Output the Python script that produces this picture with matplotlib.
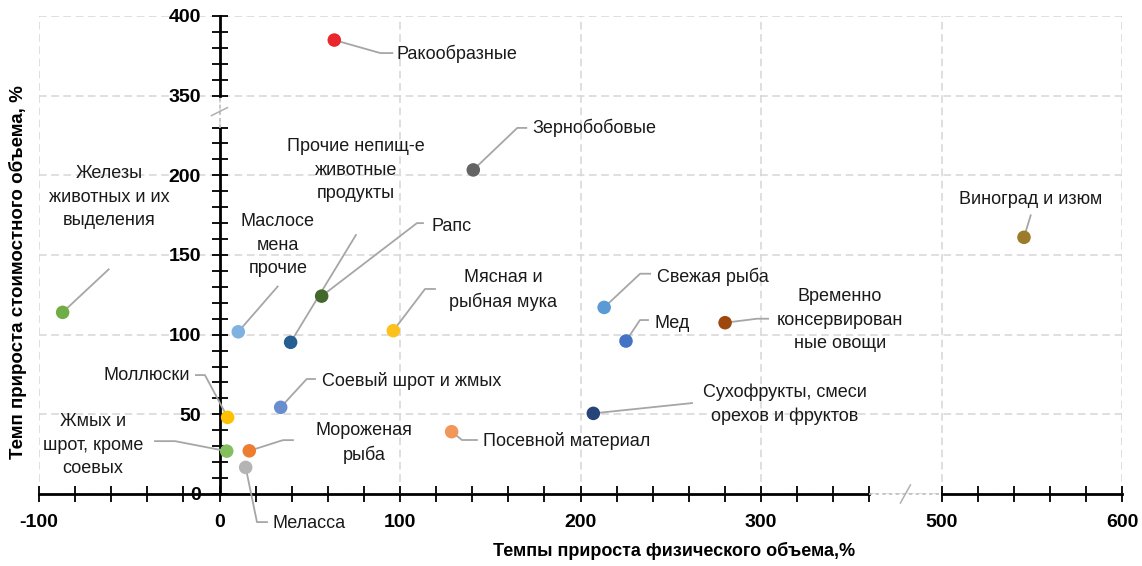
import numpy as np
import matplotlib
matplotlib.use("Agg")
import matplotlib.pyplot as plt
from matplotlib import transforms
from matplotlib.ticker import FixedLocator

plt.rcParams["axes.unicode_minus"] = False

# data: growth of physical volume (x) and value (y), %
names = ["Ракообразные", "Зернобобовые", "Виноград и изюм",
         "Железы\nживотных и их\nвыделения", "Маслосе\nмена\nпрочие", "Рапс",
         "Прочие непищ-е\nживотные\nпродукты", "Мясная и\nрыбная мука", "Свежая рыба",
         "Мед", "Временно\nконсервирован\nные овощи", "Сухофрукты, смеси\nорехов и фруктов",
         "Посевной материал", "Соевый шрот и жмых", "Моллюски",
         "Жмых и\nшрот, кроме\nсоевых", "Мороженая\nрыба", "Меласса"]
x_vals = [63.6, 140.6, 545.7, -86.9, 10.4, 56.6, 39.4, 96.3, 213.1,
          225.2, 280.1, 207.1, 128.6, 33.9, 4.5, 4.0, 16.5, 14.5]
y_vals = [384.9, 203.4, 161.1, 114.0, 101.8, 124.2, 95.2, 102.5, 117.1,
          96.0, 107.5, 50.6, 39.1, 54.4, 48.1, 26.9, 27.1, 16.7]
colors = ["#e8262b", "#646464", "#9c7b2b", "#70ad47", "#7fb2e0", "#43682b",
          "#255e91", "#fcc21b", "#5b9bd5", "#4472c4", "#9e480e", "#264478",
          "#f1975a", "#698ed0", "#ffc000", "#84bf5e", "#ed7d31", "#b4b4b4"]

x_ticks = [-100, 0, 100, 200, 300, 500, 600]
y_ticks = [0, 50, 100, 150, 200, 350, 400]

# axis breaks (data range squeezed into a short stretch)
xb0, xb1, xw = 360, 500, 40
yb0, yb1, yw = 230, 350, 20

# label layout: offset of text from point (pixels), alignment, leader vertices
text_off = [(62.7, -14), (58.7, 42), (6.7, 38), (46.3, 115.3), (39.7, 86.3), (110.3, 70),
            (65.3, 172.3), (109.7, 40.7), (53, 30.7), (29, 18), (115, 2.7), (191.7, 9.3),
            (31.3, -9.3), (41, 26.3), (-37.7, 42.3), (-133.7, 6), (114.7, 7.7), (27.3, -55.7)]
text_ha = ["left", "left", "center", "center", "center", "left", "center", "center", "left",
           "left", "center", "center", "left", "left", "right", "center", "center", "left"]
leaders = [[(0, 0), (46, -13), (58, -13)], [(0, 0), (44, 42), (53, 42)], [(0, 0), (6.7, 22)],
           [(0, 0), (46, 43)], [(0, 0), (39.4, 45.3)], [(0, 0), (95.3, 73), (101.3, 73)],
           [(0, 0), (65.3, 107.3)], [(0, 0), (31.7, 41.7), (41.7, 41.7)],
           [(0, 0), (36, 33.7), (46, 33.7)], [(0, 0), (14, 21), (22, 21)],
           [(0, 0), (32, 4), (43, 4)], [(0, 0), (98.7, 10.3)],
           [(0, 0), (10.3, -8.3), (25.3, -8.3)], [(0, 0), (26, 28.3), (34.3, 28.3)],
           [(0, 0), (-22.7, 42.3), (-31.7, 42.3)], [(0, 0), (-51.7, 10), (-71.7, 10)],
           [(0, 0), (33.7, 10.7), (43.7, 10.7)], [(0, 0), (11.3, -54.7), (21.3, -54.7)]]

font = ["Liberation Sans", "DejaVu Sans"]


def make_scale(b0, b1, w):
    k = w / (b1 - b0)

    def fwd(v):
        v = np.asarray(v, dtype=float)
        return np.where(v <= b0, v, np.where(v < b1, b0 + (v - b0) * k, v - (b1 - b0) + w))

    def inv(d):
        d = np.asarray(d, dtype=float)
        return np.where(d <= b0, d, np.where(d < b0 + w, b0 + (d - b0) / k, d + (b1 - b0) - w))
    return fwd, inv


fig = plt.figure(figsize=(11.42, 5.66), dpi=100)
ax = fig.add_axes([39 / 1142, 1 - 494 / 566, (1122 - 39) / 1142, (494 - 16) / 566])
ax.set_xscale("function", functions=make_scale(xb0, xb1, xw))
ax.set_yscale("function", functions=make_scale(yb0, yb1, yw))
ax.set_xlim(-100, 600)
ax.set_ylim(0, 400)

for s in ["top", "right"]:
    ax.spines[s].set_visible(False)
ax.spines["left"].set_position(("data", 0))
ax.spines["bottom"].set_position(("data", 0))
ax.spines["left"].set_color("none")
ax.spines["bottom"].set_color("none")

ax.xaxis.set_major_locator(FixedLocator(x_ticks))
ax.yaxis.set_major_locator(FixedLocator(y_ticks))
xminor = [v for v in range(-100, 601, 20) if (v <= xb0 or v >= xb1) and v not in x_ticks]
yminor = [v for v in range(0, 401, 10) if (v <= yb0 or v >= yb1) and v not in y_ticks]
ax.xaxis.set_minor_locator(FixedLocator(xminor))
ax.yaxis.set_minor_locator(FixedLocator(yminor))
ax.tick_params(which="both", direction="inout", length=11, width=1.3, color="black")
ax.tick_params(axis="x", pad=9)
ax.tick_params(axis="y", pad=8)
for lab in ax.get_xticklabels() + ax.get_yticklabels():
    lab.set_family(font)
    lab.set_fontweight("bold")
    lab.set_fontsize(14)

ax.grid(True, which="major", color="#d6d6d6", linestyle=(0, (5, 3)), linewidth=1.1)
ax.set_axisbelow(True)

# axis lines with dotted gaps
ax.plot([-100, xb0], [0, 0], color="black", lw=2, clip_on=False, zorder=2)
ax.plot([xb1, 600], [0, 0], color="black", lw=2, clip_on=False, zorder=2)
ax.plot([xb0, xb1], [0, 0], color="#bfbfbf", lw=1.2, ls=(0, (2, 2)), clip_on=False, zorder=2)
ax.plot([0, 0], [0, yb0], color="black", lw=2, clip_on=False, zorder=2)
ax.plot([0, 0], [yb1, 400], color="black", lw=2, clip_on=False, zorder=2)
ax.plot([0, 0], [yb0, yb1], color="#bfbfbf", lw=1.2, ls=(0, (2, 2)), clip_on=False, zorder=2)
for bx, by, seg in [((xb0 + xb1) / 2, 0, [(-5, -9), (5, 9)]), (0, (yb0 + yb1) / 2, [(-8, -4), (8, 4)])]:
    tr = transforms.Affine2D() + transforms.ScaledTranslation(bx, by, ax.transData)
    ax.plot([p[0] for p in seg], [p[1] for p in seg], color="#b0b0b0", lw=1.1,
            transform=tr, clip_on=False, zorder=3)

# leaders
for x, y, path in zip(x_vals, y_vals, leaders):
    tr = transforms.Affine2D() + transforms.ScaledTranslation(x, y, ax.transData)
    ax.plot([p[0] for p in path], [p[1] for p in path], color="#a6a6a6", lw=1.3,
            transform=tr, clip_on=False, zorder=3)

ax.scatter(x_vals, y_vals, s=95, c=colors, zorder=4, edgecolors="none", clip_on=False)

for name, x, y, off, ha in zip(names, x_vals, y_vals, text_off, text_ha):
    ax.annotate(name, xy=(x, y), xytext=off, textcoords="offset pixels", ha=ha, va="center",
                multialignment="center", linespacing=1.5, fontsize=13, family=font,
                color="#1a1a1a", zorder=5)

fig.text(674 / 1142, 1 - 551 / 566, "Темпы прироста физического объема,%", ha="center",
         va="center", fontsize=13, fontweight="bold", family=font)
fig.text(18 / 1142, 1 - 272 / 566, "Темп прироста стоимостного объема, %", ha="center",
         va="center", rotation=90, fontsize=13.5, fontweight="bold", family=font)

fig.savefig("out.png", dpi=100)
